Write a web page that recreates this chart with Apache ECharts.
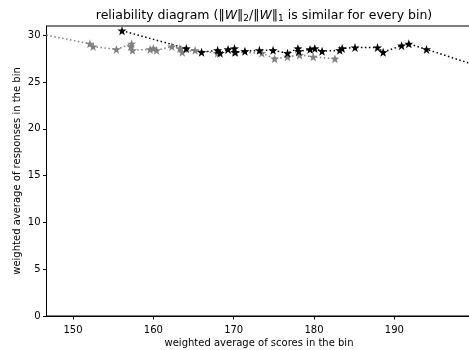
<!DOCTYPE html>
<html>
<head>
<meta charset="utf-8">
<script src="https://cdn.jsdelivr.net/npm/echarts@6/dist/echarts.min.js"></script>
<style>html,body{margin:0;padding:0;background:#fff}#c{width:469px;height:350px}</style>
</head>
<body>
<div id="c"></div>
<script>
const grayX = [146.2, 152.1, 152.5, 155.4, 157.3, 157.2, 157.4, 159.6, 160.0, 160.4, 162.3, 163.3, 163.6, 165.2, 168.0, 170.1, 173.5, 175.1, 176.7, 178.2, 179.9, 182.6];
const grayY = [30.1, 29.1, 28.8, 28.5, 29.1, 28.8, 28.4, 28.5, 28.6, 28.4, 28.8, 28.6, 28.2, 28.4, 28.1, 28.2, 28.1, 27.5, 27.7, 27.9, 27.7, 27.5];
const blackX = [156.1, 164.1, 166.0, 168.0, 168.3, 169.3, 170.1, 170.2, 171.4, 173.2, 174.9, 176.7, 178.0, 178.1, 179.5, 180.1, 181.0, 183.2, 183.5, 185.1, 187.9, 188.6, 190.9, 191.8, 194.0, 200.5];
const blackY = [30.5, 28.6, 28.2, 28.4, 28.1, 28.5, 28.6, 28.2, 28.3, 28.4, 28.4, 28.1, 28.6, 28.3, 28.5, 28.6, 28.3, 28.4, 28.6, 28.7, 28.7, 28.2, 28.9, 29.1, 28.5, 26.7];
const xTicks = [150, 160, 170, 180, 190];
const yTicks = [0, 5, 10, 15, 20, 25, 30];

const star = 'path://M0,-10L2.35,-3.24L9.51,-3.09L3.8,1.24L5.88,8.09L0,4L-5.88,8.09L-3.8,1.24L-9.51,-3.09L-2.35,-3.24Z';
const font = 'DejaVu Sans';
function pairs(xs, ys) { return xs.map((x, i) => [x, ys[i]]); }

const chart = echarts.init(document.getElementById('c'), null, {renderer: 'canvas'});
chart.setOption({
  animation: false,
  title: {
    text: 'reliability diagram (‖{i|W}‖{s|2}/‖{i|W}‖{s|1} is similar for every bin)',
    left: 259, top: 3, textAlign: 'center',
    textStyle: {
      fontFamily: font, fontSize: 12.5, fontWeight: 'normal', color: '#000',
      rich: {
        i: {fontFamily: font, fontSize: 12.5, fontStyle: 'italic', color: '#000'},
        s: {fontFamily: font, fontSize: 9, verticalAlign: 'bottom', padding: [6, 0, 0, 0], color: '#000'}
      }
    }
  },
  grid: {left: 46.5, top: 26, width: 425, height: 290, show: true, borderColor: '#000', borderWidth: 1,
         backgroundColor: 'transparent', containLabel: false, outerBoundsMode: 'none'},
  xAxis: {
    type: 'value', min: 146.7, max: 199.6,
    name: 'weighted average of scores in the bin', nameLocation: 'middle', nameGap: 22,
    nameMoveOverlap: false,
    nameTextStyle: {fontFamily: font, fontSize: 10, color: '#000'},
    axisLine: {show: true, lineStyle: {color: '#000', width: 1}},
    axisTick: {show: true, length: 3.5, customValues: xTicks, lineStyle: {color: '#000'}},
    axisLabel: {customValues: xTicks, fontFamily: font, fontSize: 10, color: '#000', margin: 9},
    splitLine: {show: false}
  },
  yAxis: {
    type: 'value', min: 0, max: 31,
    name: 'weighted average of responses in the bin', nameLocation: 'middle', nameGap: 24,
    nameMoveOverlap: false,
    nameTextStyle: {fontFamily: font, fontSize: 10, color: '#000'},
    axisLine: {show: true, lineStyle: {color: '#000', width: 1}},
    axisTick: {show: true, length: 3.5, customValues: yTicks, lineStyle: {color: '#000'}},
    axisLabel: {customValues: yTicks, fontFamily: font, fontSize: 10, color: '#000', margin: 6},
    splitLine: {show: false}
  },
  series: [
    {
      type: 'line', data: pairs(grayX, grayY), clip: true,
      symbol: star, symbolSize: 9, showAllSymbol: true,
      itemStyle: {color: '#808080'},
      lineStyle: {color: '#808080', width: 1.5, type: [1.5, 2.5], cap: 'butt'}
    },
    {
      type: 'line', data: pairs(blackX, blackY), clip: true,
      symbol: star, symbolSize: 9, showAllSymbol: true,
      itemStyle: {color: '#000'},
      lineStyle: {color: '#000', width: 1.5, type: [1.5, 2.5], cap: 'butt'}
    }
  ]
});
</script>
</body>
</html>
